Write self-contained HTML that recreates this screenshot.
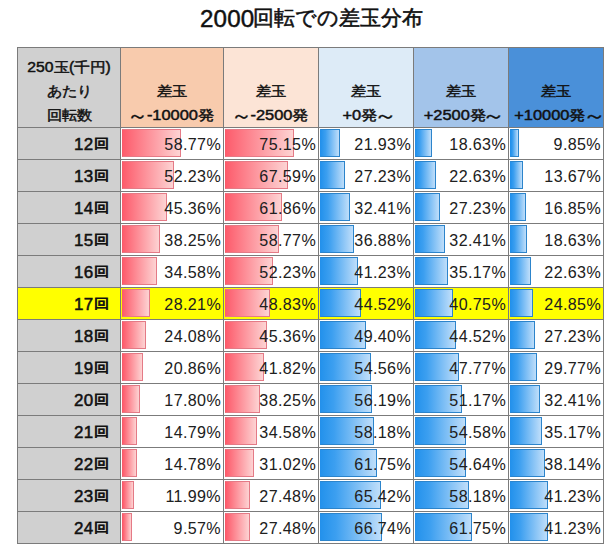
<!DOCTYPE html>
<html lang="ja">
<head>
<meta charset="utf-8">
<title>2000回転での差玉分布</title>
<style>
html,body{margin:0;padding:0;background:#fff;}
body{width:614px;height:552px;position:relative;overflow:hidden;font-family:"Liberation Sans",sans-serif;color:#111;}
.title{position:absolute;left:0;top:3px;width:614px;height:30px;font-size:22.3px;line-height:30px;white-space:nowrap;}
.title .n{position:absolute;left:200px;top:0.6px;font-size:23.4px;letter-spacing:0.16px;-webkit-text-stroke:0.45px #111;transform:scaleX(1.033);transform-origin:0 50%;}
.title .j{position:absolute;left:253px;top:0.3px;font-size:20.7px;-webkit-text-stroke:0.55px #111;}
.grid{position:absolute;left:17px;top:47px;width:587px;height:497px;background:#7b7b7b;}
.c{position:absolute;box-sizing:border-box;overflow:hidden;white-space:nowrap;}
.h{font-weight:normal;-webkit-text-stroke:0.5px #111;font-size:15.2px;text-align:center;line-height:24px;display:flex;flex-direction:column;justify-content:flex-end;padding-bottom:0px;}
.h .j,.l .j{font-size:14.67px;font-weight:normal;-webkit-text-stroke:0.5px #111;}
.h .w{display:inline-block;transform:scale(1.42,1.6);-webkit-text-stroke:0.25px #111;}
.h .w1{transform:scale(1.3,1.6);margin-right:0.8px;}
.h div.s{left:1.8px;position:relative;}
.h div{transform:translateY(0.6px) scale(1.08,0.92);}
.h div.k{transform:translateY(0.4px) scale(1.0,0.92);}
.h div.m{transform:translateY(0.6px) scale(1.035,0.92);}
.l{background:#d0d0d0;font-weight:normal;font-size:15.5px;text-align:right;padding-right:11.2px;line-height:33px;}
.l .n{display:inline-block;font-size:16px;position:relative;top:-0.5px;letter-spacing:0.3px;-webkit-text-stroke:0.5px #111;transform:scaleX(1.06);transform-origin:100% 50%;}
.l .j{display:inline-block;-webkit-text-stroke:0.8px #111;transform:translateY(-2.4px) scale(1.03,0.88);transform-origin:50% 62%;letter-spacing:0;margin-left:0px;}
.d{background:#fff;font-size:15.6px;text-align:right;padding-right:2.2px;line-height:34px;letter-spacing:0.36px;color:#202020;}
.y{background:#ffff00;}
.bar{position:absolute;left:1px;top:1px;height:28px;box-sizing:border-box;}
.r{background:linear-gradient(90deg,#fd5c6c 0%,#fdd3d3 100%);border:1px solid #e47a86;border-left-color:#fa5a6a;}
.b{background:linear-gradient(90deg,#2492ec 0%,#3c9ff0 25%,#bfdefa 100%);border:1px solid #2c84cb;border-left-color:#2490ea;}
.v{position:relative;display:inline-block;transform:scale(1.03,1);transform-origin:100% 50%;margin-right:-0.36px;}
</style>
</head>
<body>
<div class="title"><span class="n">2000</span><span class="j">回転での差玉分布</span></div>
<div class="grid">
<div class="c h" style="left:1px;top:1px;width:102px;height:79px;background:#d0d0d0"><div class="m">250<b class="j">玉</b>(<b class="j">千円</b>)</div><div class="k"><b class="j">あたり</b></div><div class="k"><b class="j">回転数</b></div></div>
<div class="c h" style="left:104px;top:1px;width:102px;height:79px;background:#f8cbad"><div class="k"><b class="j">差玉</b></div><div><b class="j w w1">～</b>-10000<b class="j">発</b></div></div>
<div class="c h" style="left:207px;top:1px;width:94px;height:79px;background:#fce4d6"><div class="k"><b class="j">差玉</b></div><div><b class="j w w1">～</b>-2500<b class="j">発</b></div></div>
<div class="c h" style="left:302px;top:1px;width:94px;height:79px;background:#ddebf7"><div class="k"><b class="j">差玉</b></div><div class="s">+0<b class="j">発</b><b class="j w">～</b></div></div>
<div class="c h" style="left:397px;top:1px;width:94px;height:79px;background:#a3c4ea"><div class="k"><b class="j">差玉</b></div><div class="s">+2500<b class="j">発</b><b class="j w">～</b></div></div>
<div class="c h" style="left:492px;top:1px;width:94px;height:79px;background:#4a90d9"><div class="k"><b class="j">差玉</b></div><div class="s">+10000<b class="j">発</b><b class="j w">～</b></div></div>
<div class="c l" style="left:1px;top:81px;width:102px;height:31px"><span class="n">12</span><b class="j">回</b></div>
<div class="c d" style="left:104px;top:81px;width:102px;height:31px"><div class="bar r" style="width:59px"></div><span class="v">58.77%</span></div>
<div class="c d" style="left:207px;top:81px;width:94px;height:31px"><div class="bar r" style="width:69px"></div><span class="v">75.15%</span></div>
<div class="c d" style="left:302px;top:81px;width:94px;height:31px"><div class="bar b" style="width:20px"></div><span class="v">21.93%</span></div>
<div class="c d" style="left:397px;top:81px;width:94px;height:31px"><div class="bar b" style="width:17px"></div><span class="v">18.63%</span></div>
<div class="c d" style="left:492px;top:81px;width:94px;height:31px"><div class="bar b" style="width:9px"></div><span class="v">9.85%</span></div>
<div class="c l" style="left:1px;top:113px;width:102px;height:31px"><span class="n">13</span><b class="j">回</b></div>
<div class="c d" style="left:104px;top:113px;width:102px;height:31px"><div class="bar r" style="width:52px"></div><span class="v">52.23%</span></div>
<div class="c d" style="left:207px;top:113px;width:94px;height:31px"><div class="bar r" style="width:63px"></div><span class="v">67.59%</span></div>
<div class="c d" style="left:302px;top:113px;width:94px;height:31px"><div class="bar b" style="width:25px"></div><span class="v">27.23%</span></div>
<div class="c d" style="left:397px;top:113px;width:94px;height:31px"><div class="bar b" style="width:21px"></div><span class="v">22.63%</span></div>
<div class="c d" style="left:492px;top:113px;width:94px;height:31px"><div class="bar b" style="width:13px"></div><span class="v">13.67%</span></div>
<div class="c l" style="left:1px;top:145px;width:102px;height:31px"><span class="n">14</span><b class="j">回</b></div>
<div class="c d" style="left:104px;top:145px;width:102px;height:31px"><div class="bar r" style="width:45px"></div><span class="v">45.36%</span></div>
<div class="c d" style="left:207px;top:145px;width:94px;height:31px"><div class="bar r" style="width:57px"></div><span class="v">61.86%</span></div>
<div class="c d" style="left:302px;top:145px;width:94px;height:31px"><div class="bar b" style="width:30px"></div><span class="v">32.41%</span></div>
<div class="c d" style="left:397px;top:145px;width:94px;height:31px"><div class="bar b" style="width:25px"></div><span class="v">27.23%</span></div>
<div class="c d" style="left:492px;top:145px;width:94px;height:31px"><div class="bar b" style="width:16px"></div><span class="v">16.85%</span></div>
<div class="c l" style="left:1px;top:177px;width:102px;height:31px"><span class="n">15</span><b class="j">回</b></div>
<div class="c d" style="left:104px;top:177px;width:102px;height:31px"><div class="bar r" style="width:38px"></div><span class="v">38.25%</span></div>
<div class="c d" style="left:207px;top:177px;width:94px;height:31px"><div class="bar r" style="width:54px"></div><span class="v">58.77%</span></div>
<div class="c d" style="left:302px;top:177px;width:94px;height:31px"><div class="bar b" style="width:34px"></div><span class="v">36.88%</span></div>
<div class="c d" style="left:397px;top:177px;width:94px;height:31px"><div class="bar b" style="width:30px"></div><span class="v">32.41%</span></div>
<div class="c d" style="left:492px;top:177px;width:94px;height:31px"><div class="bar b" style="width:17px"></div><span class="v">18.63%</span></div>
<div class="c l" style="left:1px;top:209px;width:102px;height:31px"><span class="n">16</span><b class="j">回</b></div>
<div class="c d" style="left:104px;top:209px;width:102px;height:31px"><div class="bar r" style="width:35px"></div><span class="v">34.58%</span></div>
<div class="c d" style="left:207px;top:209px;width:94px;height:31px"><div class="bar r" style="width:48px"></div><span class="v">52.23%</span></div>
<div class="c d" style="left:302px;top:209px;width:94px;height:31px"><div class="bar b" style="width:38px"></div><span class="v">41.23%</span></div>
<div class="c d" style="left:397px;top:209px;width:94px;height:31px"><div class="bar b" style="width:33px"></div><span class="v">35.17%</span></div>
<div class="c d" style="left:492px;top:209px;width:94px;height:31px"><div class="bar b" style="width:21px"></div><span class="v">22.63%</span></div>
<div class="c l y" style="left:1px;top:241px;width:102px;height:31px"><span class="n">17</span><b class="j">回</b></div>
<div class="c d y" style="left:104px;top:241px;width:102px;height:31px"><div class="bar r" style="width:28px"></div><span class="v">28.21%</span></div>
<div class="c d y" style="left:207px;top:241px;width:94px;height:31px"><div class="bar r" style="width:45px"></div><span class="v">48.83%</span></div>
<div class="c d y" style="left:302px;top:241px;width:94px;height:31px"><div class="bar b" style="width:41px"></div><span class="v">44.52%</span></div>
<div class="c d y" style="left:397px;top:241px;width:94px;height:31px"><div class="bar b" style="width:38px"></div><span class="v">40.75%</span></div>
<div class="c d y" style="left:492px;top:241px;width:94px;height:31px"><div class="bar b" style="width:23px"></div><span class="v">24.85%</span></div>
<div class="c l" style="left:1px;top:273px;width:102px;height:31px"><span class="n">18</span><b class="j">回</b></div>
<div class="c d" style="left:104px;top:273px;width:102px;height:31px"><div class="bar r" style="width:24px"></div><span class="v">24.08%</span></div>
<div class="c d" style="left:207px;top:273px;width:94px;height:31px"><div class="bar r" style="width:42px"></div><span class="v">45.36%</span></div>
<div class="c d" style="left:302px;top:273px;width:94px;height:31px"><div class="bar b" style="width:46px"></div><span class="v">49.40%</span></div>
<div class="c d" style="left:397px;top:273px;width:94px;height:31px"><div class="bar b" style="width:41px"></div><span class="v">44.52%</span></div>
<div class="c d" style="left:492px;top:273px;width:94px;height:31px"><div class="bar b" style="width:25px"></div><span class="v">27.23%</span></div>
<div class="c l" style="left:1px;top:305px;width:102px;height:31px"><span class="n">19</span><b class="j">回</b></div>
<div class="c d" style="left:104px;top:305px;width:102px;height:31px"><div class="bar r" style="width:21px"></div><span class="v">20.86%</span></div>
<div class="c d" style="left:207px;top:305px;width:94px;height:31px"><div class="bar r" style="width:39px"></div><span class="v">41.82%</span></div>
<div class="c d" style="left:302px;top:305px;width:94px;height:31px"><div class="bar b" style="width:51px"></div><span class="v">54.56%</span></div>
<div class="c d" style="left:397px;top:305px;width:94px;height:31px"><div class="bar b" style="width:44px"></div><span class="v">47.77%</span></div>
<div class="c d" style="left:492px;top:305px;width:94px;height:31px"><div class="bar b" style="width:27px"></div><span class="v">29.77%</span></div>
<div class="c l" style="left:1px;top:337px;width:102px;height:31px"><span class="n">20</span><b class="j">回</b></div>
<div class="c d" style="left:104px;top:337px;width:102px;height:31px"><div class="bar r" style="width:18px"></div><span class="v">17.80%</span></div>
<div class="c d" style="left:207px;top:337px;width:94px;height:31px"><div class="bar r" style="width:35px"></div><span class="v">38.25%</span></div>
<div class="c d" style="left:302px;top:337px;width:94px;height:31px"><div class="bar b" style="width:52px"></div><span class="v">56.19%</span></div>
<div class="c d" style="left:397px;top:337px;width:94px;height:31px"><div class="bar b" style="width:47px"></div><span class="v">51.17%</span></div>
<div class="c d" style="left:492px;top:337px;width:94px;height:31px"><div class="bar b" style="width:30px"></div><span class="v">32.41%</span></div>
<div class="c l" style="left:1px;top:369px;width:102px;height:31px"><span class="n">21</span><b class="j">回</b></div>
<div class="c d" style="left:104px;top:369px;width:102px;height:31px"><div class="bar r" style="width:15px"></div><span class="v">14.79%</span></div>
<div class="c d" style="left:207px;top:369px;width:94px;height:31px"><div class="bar r" style="width:32px"></div><span class="v">34.58%</span></div>
<div class="c d" style="left:302px;top:369px;width:94px;height:31px"><div class="bar b" style="width:54px"></div><span class="v">58.18%</span></div>
<div class="c d" style="left:397px;top:369px;width:94px;height:31px"><div class="bar b" style="width:51px"></div><span class="v">54.58%</span></div>
<div class="c d" style="left:492px;top:369px;width:94px;height:31px"><div class="bar b" style="width:32px"></div><span class="v">35.17%</span></div>
<div class="c l" style="left:1px;top:401px;width:102px;height:31px"><span class="n">22</span><b class="j">回</b></div>
<div class="c d" style="left:104px;top:401px;width:102px;height:31px"><div class="bar r" style="width:15px"></div><span class="v">14.78%</span></div>
<div class="c d" style="left:207px;top:401px;width:94px;height:31px"><div class="bar r" style="width:29px"></div><span class="v">31.02%</span></div>
<div class="c d" style="left:302px;top:401px;width:94px;height:31px"><div class="bar b" style="width:57px"></div><span class="v">61.75%</span></div>
<div class="c d" style="left:397px;top:401px;width:94px;height:31px"><div class="bar b" style="width:51px"></div><span class="v">54.64%</span></div>
<div class="c d" style="left:492px;top:401px;width:94px;height:31px"><div class="bar b" style="width:35px"></div><span class="v">38.14%</span></div>
<div class="c l" style="left:1px;top:433px;width:102px;height:31px"><span class="n">23</span><b class="j">回</b></div>
<div class="c d" style="left:104px;top:433px;width:102px;height:31px"><div class="bar r" style="width:12px"></div><span class="v">11.99%</span></div>
<div class="c d" style="left:207px;top:433px;width:94px;height:31px"><div class="bar r" style="width:25px"></div><span class="v">27.48%</span></div>
<div class="c d" style="left:302px;top:433px;width:94px;height:31px"><div class="bar b" style="width:61px"></div><span class="v">65.42%</span></div>
<div class="c d" style="left:397px;top:433px;width:94px;height:31px"><div class="bar b" style="width:54px"></div><span class="v">58.18%</span></div>
<div class="c d" style="left:492px;top:433px;width:94px;height:31px"><div class="bar b" style="width:38px"></div><span class="v">41.23%</span></div>
<div class="c l" style="left:1px;top:465px;width:102px;height:31px"><span class="n">24</span><b class="j">回</b></div>
<div class="c d" style="left:104px;top:465px;width:102px;height:31px"><div class="bar r" style="width:10px"></div><span class="v">9.57%</span></div>
<div class="c d" style="left:207px;top:465px;width:94px;height:31px"><div class="bar r" style="width:25px"></div><span class="v">27.48%</span></div>
<div class="c d" style="left:302px;top:465px;width:94px;height:31px"><div class="bar b" style="width:62px"></div><span class="v">66.74%</span></div>
<div class="c d" style="left:397px;top:465px;width:94px;height:31px"><div class="bar b" style="width:57px"></div><span class="v">61.75%</span></div>
<div class="c d" style="left:492px;top:465px;width:94px;height:31px"><div class="bar b" style="width:38px"></div><span class="v">41.23%</span></div>
</div>
</body>
</html>
